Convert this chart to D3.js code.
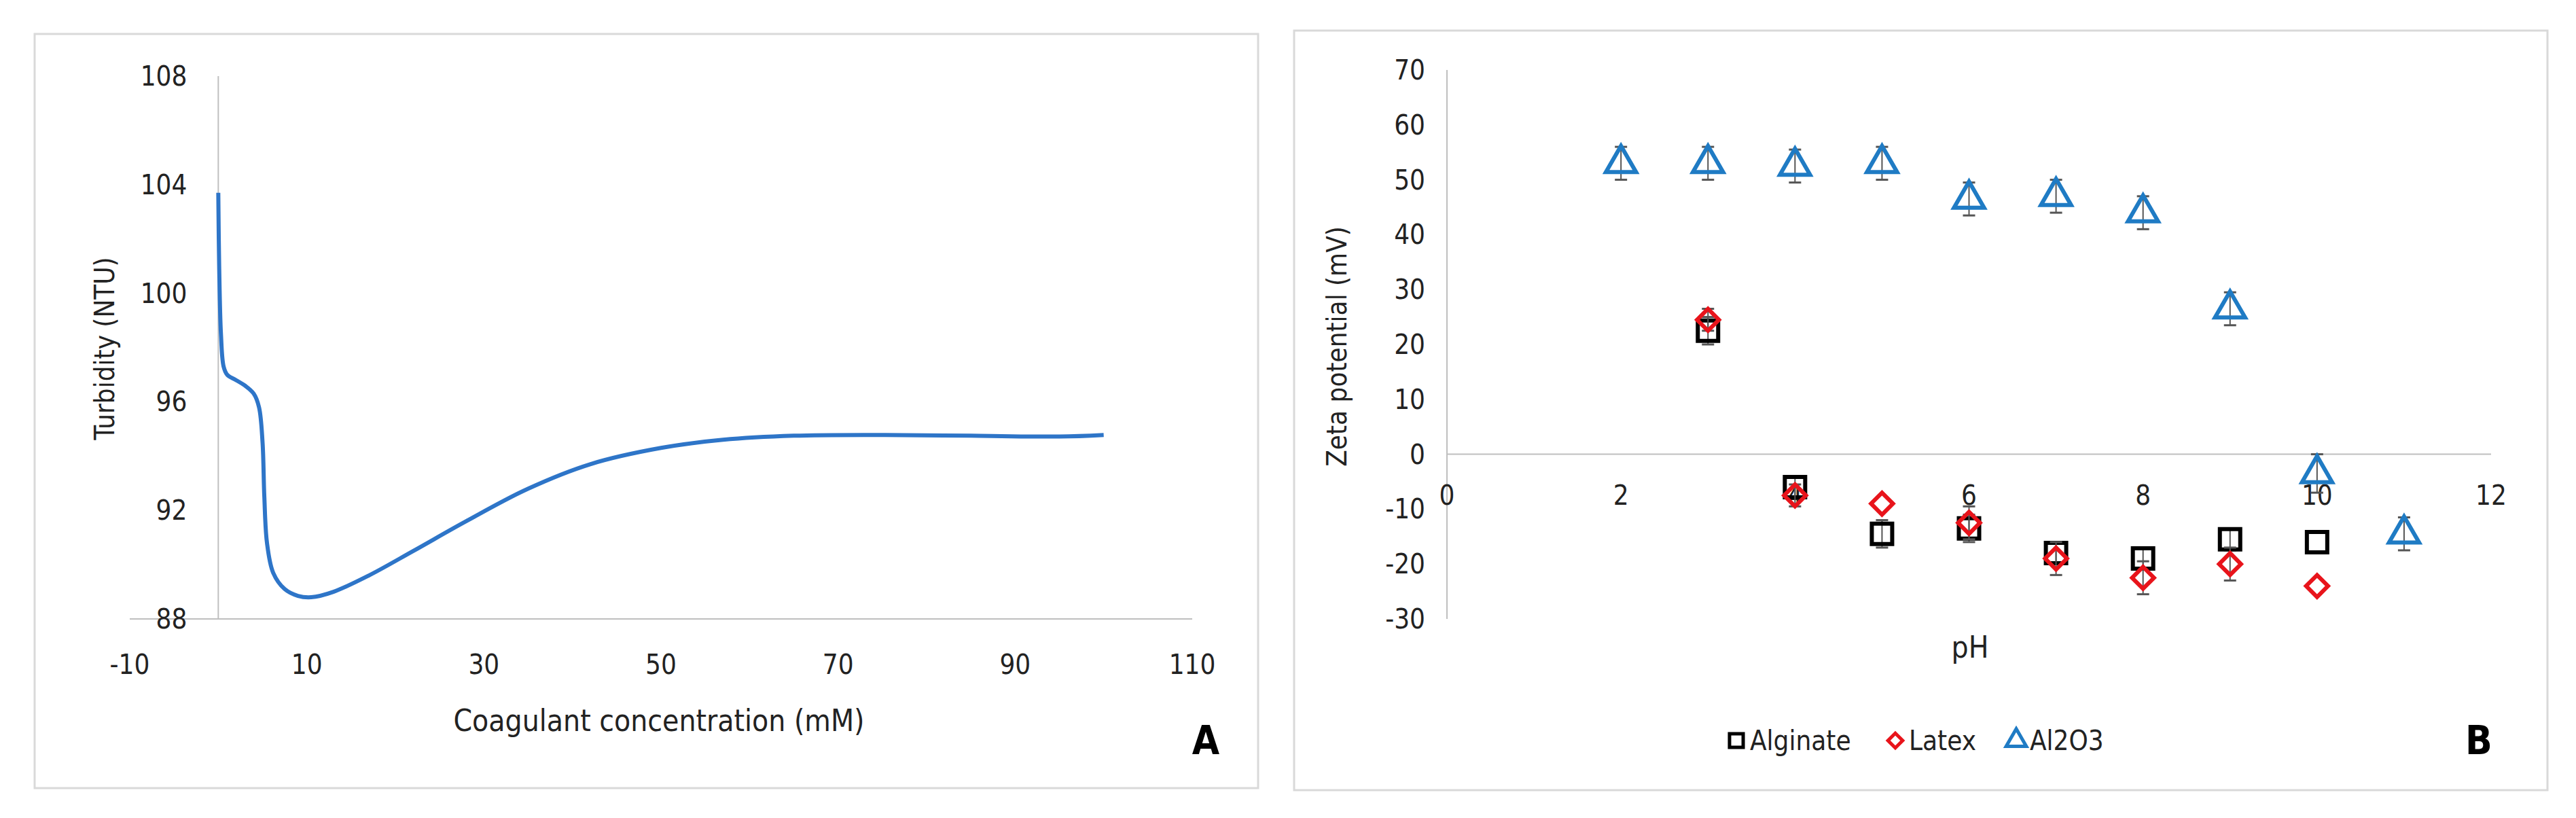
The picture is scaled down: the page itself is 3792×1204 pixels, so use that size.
<!DOCTYPE html><html><head><meta charset="utf-8"><script src="https://cdn.jsdelivr.net/npm/d3@7"></script>
<style>body{margin:0;background:#fff}text{font-family:"DejaVu Sans Condensed","Liberation Sans",sans-serif;fill:#222}</style></head><body>
<svg id="c" width="3792" height="1204"></svg>
<script>
const curveX=[0,0.1,0.3,0.6,1,2,3,4,4.6,5,5.2,5.5,6.2,7.5,9,10.5,13,17,22,28,35,42,50,57,65,75,85,95,100];
const curveY=[103.7,101,98.5,97.3,97,96.8,96.6,96.3,95.8,94.5,92.5,90.8,89.7,89.1,88.85,88.8,89.0,89.6,90.5,91.6,92.8,93.7,94.3,94.6,94.75,94.78,94.75,94.72,94.78];
const xTicksA=[-10,10,30,50,70,90,110], yTicksA=[88,92,96,100,104,108];
const pH=[2,3,4,5,6,7,8,9,10,11];
const alginate=[null,22.5,-6,-14.5,-13.5,-18,-19,-15.5,-16,null];
const alginateErr=[0,2.5,2,2.5,2.5,2,2,2,0,0];
const latex=[null,24.5,-7.5,-9,-12.5,-19,-22.5,-20,-24,null];
const latexErr=[0,2,2,0,3,3,3,3,0,0];
const al2o3=[53,53,52.5,53,46.5,47,44,26.5,-3.5,-14.5];
const al2o3Err=[3,3,3,3,3,3,3,3,3.5,3];
const xTicksB=[0,2,4,6,8,10,12], yTicksB=[-30,-20,-10,0,10,20,30,40,50,60,70];
const svg=d3.select("#c");
const fs=40;
svg.append("rect").attr("x",51).attr("y",50).attr("width",1801).attr("height",1110).attr("fill","none").attr("stroke","#d9d9d9").attr("stroke-width",3);
svg.append("rect").attr("x",1905).attr("y",45).attr("width",1845).attr("height",1118).attr("fill","none").attr("stroke","#d9d9d9").attr("stroke-width",3);
// Panel A
const xA=d3.scaleLinear().domain([-10,110]).range([191,1755]);
const yA=d3.scaleLinear().domain([88,108]).range([911,112]);
svg.append("line").attr("x1",xA(-10)).attr("x2",xA(110)).attr("y1",yA(88)).attr("y2",yA(88)).attr("stroke","#bfbfbf").attr("stroke-width",2);
svg.append("line").attr("x1",xA(0)).attr("x2",xA(0)).attr("y1",yA(88)).attr("y2",yA(108)).attr("stroke","#bfbfbf").attr("stroke-width",2);
svg.selectAll(".xa").data(xTicksA).enter().append("text").attr("x",d=>xA(d)).attr("y",992).attr("text-anchor","middle").attr("font-size",fs).text(d=>d);
svg.selectAll(".ya").data(yTicksA).enter().append("text").attr("x",xA(0)-46).attr("y",d=>yA(d)+14).attr("text-anchor","end").attr("font-size",fs).text(d=>d);
svg.append("text").attr("transform",`translate(168,513) rotate(-90)`).attr("text-anchor","middle").attr("font-size",40).attr("font-family","Liberation Sans").text("Turbidity (NTU)");
svg.append("text").attr("x",970).attr("y",1076).attr("text-anchor","middle").attr("font-size",44).text("Coagulant concentration (mM)");
svg.append("text").attr("x",1775).attr("y",1110).attr("text-anchor","middle").attr("font-size",58).attr("font-weight","bold").attr("font-family","Liberation Sans").style("fill","#000").text("A");
svg.append("path").datum(curveX.map((x,i)=>[x,curveY[i]])).attr("fill","none").attr("stroke","#2e75c8").attr("stroke-width",6)
 .attr("d",d3.line().x(d=>xA(d[0])).y(d=>yA(d[1])).curve(d3.curveCatmullRom));
// Panel B
const xB=d3.scaleLinear().domain([0,12]).range([2130,3667]);
const yB=d3.scaleLinear().domain([-30,70]).range([911,103]);
svg.append("line").attr("x1",xB(0)).attr("x2",xB(12)).attr("y1",yB(0)).attr("y2",yB(0)).attr("stroke","#bfbfbf").attr("stroke-width",2);
svg.append("line").attr("x1",xB(0)).attr("x2",xB(0)).attr("y1",yB(-30)).attr("y2",yB(70)).attr("stroke","#bfbfbf").attr("stroke-width",2);
svg.selectAll(".xb").data(xTicksB).enter().append("text").attr("x",d=>xB(d)).attr("y",yB(0)+74).attr("text-anchor","middle").attr("font-size",fs).text(d=>d);
svg.selectAll(".yb").data(yTicksB).enter().append("text").attr("x",xB(0)-32).attr("y",d=>yB(d)+14).attr("text-anchor","end").attr("font-size",fs).text(d=>d);
svg.append("text").attr("transform",`translate(1982,510) rotate(-90)`).attr("text-anchor","middle").attr("font-size",40).attr("font-family","Liberation Sans").text("Zeta potential (mV)");
svg.append("text").attr("x",2900).attr("y",968).attr("text-anchor","middle").attr("font-size",44).text("pH");
svg.append("text").attr("x",3649).attr("y",1110).attr("text-anchor","middle").attr("font-size",58).attr("font-weight","bold").attr("font-family","Liberation Sans").style("fill","#000").text("B");
const series=[
 {v:alginate,e:alginateErr,c:"#000",sym:d3.symbolSquare,s:900,rot:0},
 {v:latex,e:latexErr,c:"#e8141b",sym:d3.symbolSquare,s:520,rot:45},
 {v:al2o3,e:al2o3Err,c:"#1f7bc4",sym:d3.symbolTriangle,s:850,rot:0}];
series.forEach(S=>{
 const pts=pH.map((p,i)=>({p,v:S.v[i],e:S.e[i]})).filter(d=>d.v!==null);
 const g=svg.append("g");
 pts.filter(d=>d.e>0).forEach(d=>{
  g.append("line").attr("x1",xB(d.p)).attr("x2",xB(d.p)).attr("y1",yB(d.v-d.e)).attr("y2",yB(d.v+d.e)).attr("stroke","#555").attr("stroke-width",2);
  [d.v-d.e,d.v+d.e].forEach(y=>g.append("line").attr("x1",xB(d.p)-9).attr("x2",xB(d.p)+9).attr("y1",yB(y)).attr("y2",yB(y)).attr("stroke","#555").attr("stroke-width",3));
 });
 g.selectAll("path").data(pts).enter().append("path").attr("transform",d=>`translate(${xB(d.p)},${yB(d.v)}) rotate(${S.rot})`)
  .attr("d",d3.symbol().type(S.sym).size(S.s)).attr("fill","none").attr("stroke",S.c).attr("stroke-width",6);
});
const leg=[["Alginate",0,2556],["Latex",1,2790],["Al2O3",2,2968]];
leg.forEach(([t,i,x])=>{
 const S=series[i];
 svg.append("path").attr("transform",`translate(${x},1090) rotate(${S.rot})`).attr("d",d3.symbol().type(S.sym).size(S.s*0.45)).attr("fill","none").attr("stroke",S.c).attr("stroke-width",5);
 svg.append("text").attr("x",x+20).attr("y",1104).attr("font-size",40).text(t);
});
</script></body></html>
